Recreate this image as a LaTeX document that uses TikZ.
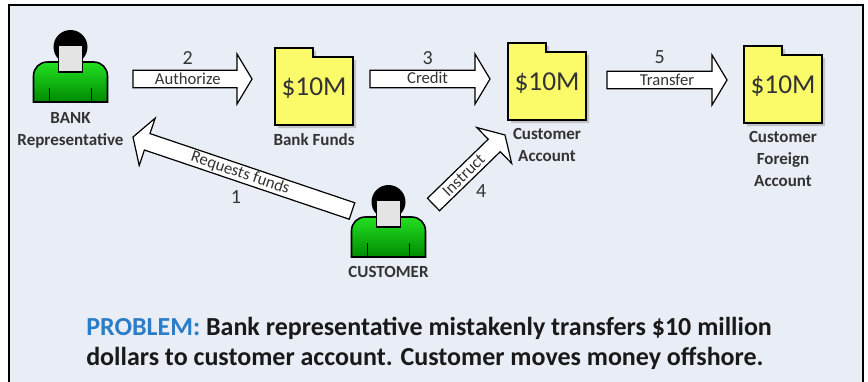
\documentclass[tikz,border=0pt]{standalone}
\usepackage{fontspec}
\setmainfont{Carlito}
\usetikzlibrary{positioning,calc}

\definecolor{panel}{HTML}{E9EDF6}
\definecolor{folderyellow}{HTML}{FBFB6A}
\definecolor{bodytop}{HTML}{22E022}
\definecolor{bodybot}{HTML}{008A00}
\definecolor{facegray}{HTML}{E4E4E4}
\definecolor{inkgray}{HTML}{333333}
\definecolor{problemblue}{HTML}{2A7DC6}

\tikzset{
  flow/.style={fill=white, draw=black, line width=0.9pt, line join=miter},
  who/.style={text=inkgray, align=center, inner sep=0pt,
    font=\bfseries\fontsize{12.75}{16.5}\selectfont},
  money/.style={text=inkgray, inner sep=0pt, font=\fontsize{20.5}{24}\selectfont},
  verb/.style={text=inkgray, inner sep=0pt, font=\fontsize{12.5}{14}\selectfont},
  stepno/.style={text=inkgray, inner sep=0pt, font=\fontsize{15}{17}\selectfont},
  person/.pic={
    \fill[black] (0,17) ellipse [x radius=17, y radius=17];
    \draw[line width=1.2pt, top color=bodytop, bottom color=bodybot]
      (-37,72) -- (-37,46) .. controls (-37,38) and (-31,32) .. (-23,32)
      -- (23,32) .. controls (31,32) and (37,38) .. (37,46) -- (37,72) -- cycle;
    \filldraw[fill=facegray, draw=black, line width=1pt] (-12,15) rectangle (12,42);
    \draw[line width=1pt] (-21,58) -- (-21,72) (21,58) -- (21,72);
    \coordinate (-foot) at (0,72);
  },
  folder/.pic={
    \fill[black!40, opacity=.5] (3,-6) -- (41,-6) -- (41,3) -- (81,3) -- (81,71) -- (3,71) -- cycle;
    \filldraw[fill=folderyellow, draw=black, line width=1.2pt]
      (0,-9) -- (38,-9) -- (38,0) -- (78,0) -- (78,68) -- (0,68) -- cycle;
    \node[money] (-amt) at (39,31) {#1};
    \coordinate (-foot) at (39,68);
  }
}

\newcommand{\flowarrow}[2]{%
  \coordinate (neck) at ($(#2)!11.25pt!(#1)$);
  \filldraw[flow] ($(#1)!6.5pt!90:(#2)$) -- ($(neck)!6.5pt!90:(#2)$)
    -- ($(neck)!18.75pt!90:(#2)$) -- (#2) -- ($(neck)!18.75pt!-90:(#2)$)
    -- ($(neck)!6.5pt!-90:(#2)$) -- ($(#1)!6.5pt!-90:(#2)$) -- cycle;}

\begin{document}
\begin{tikzpicture}[x=0.75pt, y=-0.75pt]
\useasboundingbox (0,0) rectangle (868,382);
\fill[panel] (9,5) rectangle (863,382);
\draw[line width=1.2pt] (9,382) -- (9,5) -- (863,5) -- (863,382);

\pic (rep) at (70.5,30) {person};
\node[who, below=8pt of rep-foot] (replbl) {BANK\\Representative};

\pic (cust) at (388.5,185) {person};
\node[who, below=7pt of cust-foot] (custlbl) {CUSTOMER};

\pic (bank) at (275,57) {folder=\$10M};
\node[who, below=6pt of bank-foot] (banklbl) {Bank Funds};

\pic (acct) at (508,52) {folder=\$10M};
\node[who, below=6pt of acct-foot] (acctlbl) {Customer\\Account};

\pic (forgn) at (744,55) {folder=\$10M};
\node[who, below=6pt of forgn-foot] (forgnlbl) {Customer\\Foreign\\Account};

\coordinate (authtail) at (133,79);
\coordinate (authtip) at (252,79);
\coordinate (credtail) at (370,79);
\coordinate (credtip) at (490,79);
\coordinate (movetail) at (607,80);
\coordinate (movetip) at (727,80);
\coordinate (asktail) at (352,211);
\coordinate (asktip) at (133,137);
\coordinate (telltail) at (433.5,204.5);
\coordinate (telltip) at (505,135);

\flowarrow{authtail}{authtip}
\flowarrow{credtail}{credtip}
\flowarrow{movetail}{movetip}
\flowarrow{asktail}{asktip}
\flowarrow{telltail}{telltip}

\path (authtail) -- (authtip) node[verb, pos=0.46] {Authorize} node[stepno, pos=0.46, yshift=15.75pt] {2};
\path (credtail) -- (credtip) node[verb, pos=0.48, yshift=1pt] {Credit} node[stepno, pos=0.48, yshift=15.75pt] {3};
\path (movetail) -- (movetip) node[verb, pos=0.5] {Transfer} node[stepno, pos=0.44, yshift=17pt] {5};
\path (asktail) -- (asktip) node[verb, pos=0.51, sloped] {Requests funds} node[stepno, pos=0.53, yshift=-18.75pt] {1};
\path (telltail) -- (telltip) node[verb, pos=0.42, sloped] {Instruct} node[stepno, pos=0.63, xshift=2pt, yshift=-23pt] {4};

\node[anchor=west, align=left, inner sep=0pt, text=black!90,
  font=\bfseries\fontsize{19.5}{22.5}\selectfont] (problem) at (86,343)
  {\textcolor{problemblue}{PROBLEM:} Bank representative mistakenly transfers \$10 million\\
   dollars to customer account. Customer moves money offshore.};
\end{tikzpicture}
\end{document}
